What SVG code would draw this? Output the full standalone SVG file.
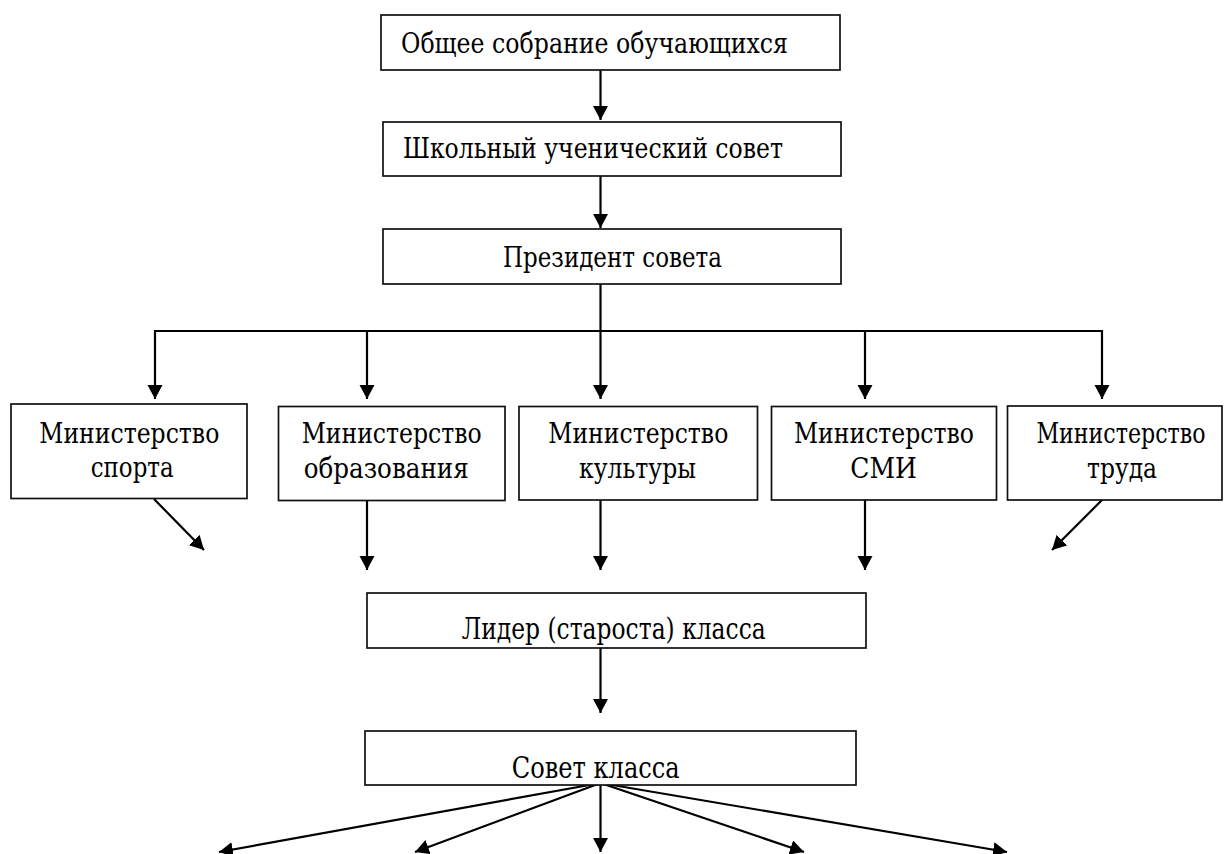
<svg xmlns="http://www.w3.org/2000/svg" width="1225" height="854" viewBox="0 0 1225 854">
<style>
.box{fill:#fff;stroke:#111;stroke-width:1.7}
.t{font-family:'DejaVu Serif','Liberation Serif',serif;font-size:27px;fill:#000}
.big{font-size:30px}
.c{fill:none;stroke:#000;stroke-width:2.2}
.a{marker-end:url(#ah)}
</style>
<defs>
<marker id="ah" markerUnits="userSpaceOnUse" markerWidth="15" markerHeight="16" refX="14" refY="7.5" orient="auto">
<path d="M0,0 L14,7.5 L0,15 z" fill="#000"/>
</marker>
</defs>
<rect width="1225" height="854" fill="#fff"/>
<g id="connectors">
<line class="c a" x1="600.5" y1="66" x2="600.5" y2="120"/>
<line class="c a" x1="600.5" y1="174" x2="600.5" y2="228"/>
<polyline class="c" points="600.5,282 600.5,331"/>
<line class="c" x1="154" y1="331" x2="1103" y2="331"/>
<line class="c a" x1="155" y1="330" x2="155" y2="399"/>
<line class="c a" x1="367" y1="330" x2="367" y2="399"/>
<line class="c a" x1="600.5" y1="330" x2="600.5" y2="399"/>
<line class="c a" x1="865" y1="330" x2="865" y2="399"/>
<line class="c a" x1="1102" y1="330" x2="1102" y2="399"/>
<line class="c a" x1="154" y1="499" x2="204" y2="550"/>
<line class="c a" x1="367" y1="500" x2="367" y2="570"/>
<line class="c a" x1="600.5" y1="500" x2="600.5" y2="570"/>
<line class="c a" x1="865" y1="500" x2="865" y2="570"/>
<line class="c a" x1="1102" y1="500" x2="1052" y2="550"/>
<line class="c a" x1="600.5" y1="643" x2="600.5" y2="713"/>
<line class="c a" x1="600.5" y1="783" x2="219" y2="852"/>
<line class="c a" x1="600.5" y1="783" x2="415" y2="852"/>
<line class="c a" x1="600.5" y1="783" x2="600.5" y2="852"/>
<line class="c a" x1="600.5" y1="783" x2="804" y2="852"/>
<line class="c a" x1="600.5" y1="783" x2="1007" y2="852"/>
</g>
<g id="n1"><rect class="box" x="381" y="15" width="459" height="55"/><text class="t" x="401" y="53" textLength="387" lengthAdjust="spacingAndGlyphs">Общее собрание обучающихся</text></g>
<g id="n2"><rect class="box" x="383" y="122" width="458" height="54"/><text class="t" x="403" y="158" textLength="380" lengthAdjust="spacingAndGlyphs">Школьный ученический совет</text></g>
<g id="n3"><rect class="box" x="383" y="229" width="458" height="55"/><text class="t" x="503" y="266.5" textLength="219" lengthAdjust="spacingAndGlyphs">Президент совета</text></g>
<g id="n4"><rect class="box" x="11" y="404" width="236" height="94.5"/><text class="t" x="39.3" y="442.7" textLength="180" lengthAdjust="spacingAndGlyphs">Министерство</text><text class="t" x="90.7" y="476.7" textLength="83" lengthAdjust="spacingAndGlyphs">спорта</text></g>
<g id="n5"><rect class="box" x="278.5" y="406.5" width="226.5" height="94"/><text class="t" x="301.7" y="443.3" textLength="180" lengthAdjust="spacingAndGlyphs">Министерство</text><text class="t" x="303.7" y="478" textLength="165" lengthAdjust="spacingAndGlyphs">образования</text></g>
<g id="n6"><rect class="box" x="519" y="406.5" width="238.5" height="93.5"/><text class="t" x="548.3" y="443.3" textLength="180" lengthAdjust="spacingAndGlyphs">Министерство</text><text class="t" x="579" y="478" textLength="117" lengthAdjust="spacingAndGlyphs">культуры</text></g>
<g id="n7"><rect class="box" x="771.5" y="406.5" width="225" height="93.5"/><text class="t" x="794" y="443.3" textLength="180" lengthAdjust="spacingAndGlyphs">Министерство</text><text class="t" x="850.3" y="478" textLength="66.6" lengthAdjust="spacingAndGlyphs">СМИ</text></g>
<g id="n8"><rect class="box" x="1007.5" y="406" width="214.5" height="94"/><text class="t" text-anchor="middle" transform="translate(1121,443.3) scale(0.82,1)">Министерство</text><text class="t" x="1087" y="478" textLength="70" lengthAdjust="spacingAndGlyphs">труда</text></g>
<g id="n9"><rect class="box" x="367" y="593" width="499" height="55"/><text class="t big" x="461.7" y="639.3" textLength="304" lengthAdjust="spacingAndGlyphs">Лидер (староста) класса</text></g>
<g id="n10"><rect class="box" x="365" y="731" width="491" height="54"/><text class="t big" x="511.7" y="777.5" textLength="168" lengthAdjust="spacingAndGlyphs">Совет класса</text></g>
</svg>
